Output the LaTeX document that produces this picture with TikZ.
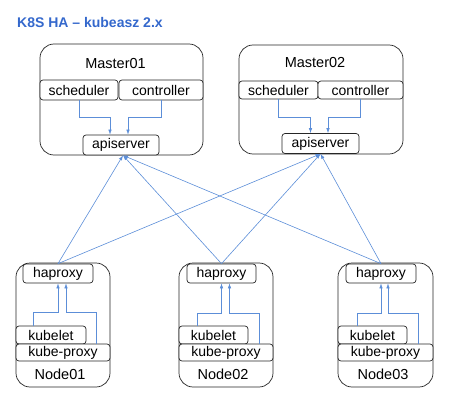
\documentclass[tikz,border=0pt]{standalone}
\usepackage{fontspec}
\setmainfont{Liberation Sans}
\usetikzlibrary{arrows.meta,positioning,calc}
\definecolor{linkblue}{RGB}{92,142,216}
\definecolor{titleblue}{RGB}{52,104,204}

\begin{document}
\begin{tikzpicture}[x=1pt,y=-1pt,
    box/.style={draw=black!85, line width=0.7pt, rounded corners=14pt, inner sep=0pt},
    part/.style={draw=black!85, line width=0.7pt, fill=white, rounded corners=3pt, inner sep=0pt, minimum height=18pt, font=\fontsize{14}{16}\selectfont},
    label/.style={inner sep=0pt, font=\fontsize{14.5}{16}\selectfont},
    link/.style={draw=linkblue, line width=0.6pt, -{Latex[length=5pt,width=3.5pt]}}]
    \useasboundingbox (0,0) rectangle (461,404);
    \node[anchor=west, inner sep=0pt, text=titleblue, font=\bfseries\fontsize{14}{16}\selectfont] (title) at (17,22) {K8S HA – kubeasz 2.x};

    % masters
    \node[box, minimum width=163pt, minimum height=111pt] (m1) at (121.5,99.5) {};
    \node[label] (m1t) at (115.5,64) {Master01};
    \node[part, minimum width=78pt, minimum height=20pt] (s1) at (79,90) {scheduler};
    \node[part, minimum width=84pt, minimum height=20pt] (c1) at (161,90) {controller};
    \node[part, minimum width=76pt, minimum height=20pt] (a1) at (121,145) {apiserver};
    \draw[link] (s1.south) -- ++(0,17) -| ([xshift=-11pt]a1.north);
    \draw[link] (c1.south) -- ++(0,17) -| ([xshift=7pt]a1.north);

    \node[box, minimum width=164pt, minimum height=109pt] (m2) at (321,99.5) {};
    \node[label] (m2t) at (315,63) {Master02};
    \node[part, minimum width=79pt] (s2) at (278.5,90) {scheduler};
    \node[part, minimum width=85pt] (c2) at (360.5,90) {controller};
    \node[part, minimum width=77pt, minimum height=20pt] (a2) at (320.5,143.5) {apiserver};
    \draw[link] (s2.south) -- ++(0,17.5) -| ([xshift=-10pt]a2.north);
    \draw[link] (c2.south) -- ++(0,17.5) -| ([xshift=7.5pt]a2.north);

    % nodes
    \node[box, minimum width=94pt, minimum height=124pt] (n1) at (63,325) {};
    \node[part, minimum width=70pt, minimum height=19pt] (h1) at (58,273.5) {haproxy};
    \node[part, minimum width=70pt] (k1) at (51,335) {kubelet};
    \node[part, minimum width=94pt, minimum height=17pt] (p1) at (63,352.5) {kube-proxy};
    \node[label] (n1t) at (60,374) {Node01};
    \draw[link] ([xshift=-18pt]k1.north) -- ++(0,-13) -| (h1.south);
    \draw[link] ([xshift=33pt]p1.north) -- ++(0,-31) -| ([xshift=8pt]h1.south);

    \node[box, minimum width=94pt, minimum height=124pt] (n2) at (226,325) {};
    \node[part, minimum width=69pt, minimum height=19pt] (h2) at (221.5,273.5) {haproxy};
    \node[part, minimum width=69pt] (k2) at (213.5,335) {kubelet};
    \node[part, minimum width=94pt, minimum height=17pt] (p2) at (226,352.5) {kube-proxy};
    \node[label] (n2t) at (223,374) {Node02};
    \draw[link] ([xshift=-16.5pt]k2.north) -- ++(0,-12) -| (h2.south);
    \draw[link] ([xshift=33pt]p2.north) -- ++(0,-30) -| ([xshift=8pt]h2.south);

    \node[box, minimum width=95pt, minimum height=124pt] (n3) at (385.5,325) {};
    \node[part, minimum width=70pt, minimum height=19pt] (h3) at (381,273.5) {haproxy};
    \node[part, minimum width=69pt] (k3) at (372.5,335) {kubelet};
    \node[part, minimum width=95pt, minimum height=17pt] (p3) at (385.5,352.5) {kube-proxy};
    \node[label] (n3t) at (383,374) {Node03};
    \draw[link] ([xshift=-15.5pt]k3.north) -- ++(0,-12) -| (h3.south);
    \draw[link] ([xshift=32.5pt]p3.north) -- ++(0,-30) -| ([xshift=7pt]h3.south);

    % haproxy -> apiserver
    \draw[link] (h1.north) -- ([xshift=2pt]a1.south);
    \draw[link] (h1.north) -- (a2.south);
    \draw[link] (h2.north) -- ([xshift=2pt]a1.south);
    \draw[link] (h2.north) -- (a2.south);
    \draw[link] (h3.north) -- ([xshift=2pt]a1.south);
    \draw[link] (h3.north) -- (a2.south);
\end{tikzpicture}
\end{document}
